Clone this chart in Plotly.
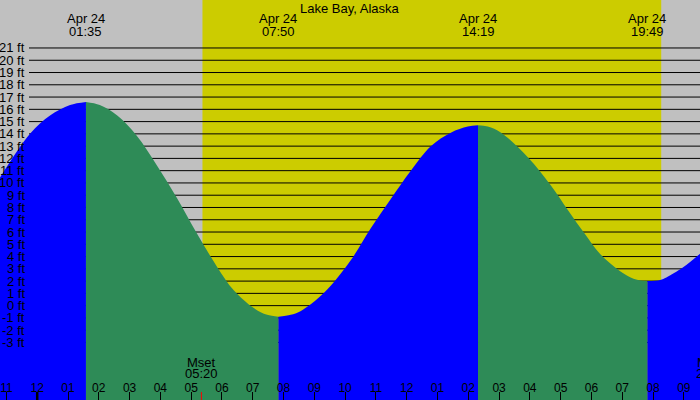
import plotly.graph_objects as go
import pandas as pd

TITLE = "Lake Bay, Alaska"
FONT = "Liberation Sans"
FS = 13
TICK_FS = 12

# Tide readings (time, height in ft)
tide_times = [
    "2024-04-23 22:47", "2024-04-23 23:46", "2024-04-24 00:25", "2024-04-24 01:04",
    "2024-04-24 01:35",
    "2024-04-24 02:02", "2024-04-24 02:36", "2024-04-24 03:14", "2024-04-24 03:53",
    "2024-04-24 04:32", "2024-04-24 05:11", "2024-04-24 05:50", "2024-04-24 06:23",
    "2024-04-24 07:02", "2024-04-24 07:28",
    "2024-04-24 07:50",
    "2024-04-24 08:14", "2024-04-24 08:33", "2024-04-24 09:19", "2024-04-24 10:11",
    "2024-04-24 10:50", "2024-04-24 11:29", "2024-04-24 12:08", "2024-04-24 12:47",
    "2024-04-24 13:26", "2024-04-24 13:59",
    "2024-04-24 14:19",
    "2024-04-24 14:38", "2024-04-24 15:04", "2024-04-24 15:56", "2024-04-24 16:41",
    "2024-04-24 17:14", "2024-04-24 17:47", "2024-04-24 18:17", "2024-04-24 18:56",
    "2024-04-24 19:22",
    "2024-04-24 19:49",
    "2024-04-24 20:14", "2024-04-24 20:26", "2024-04-24 20:58", "2024-04-24 21:32",
]
tide_ft = [
    10.4, 14.0, 15.5, 16.35,
    16.6,
    16.35, 15.5, 13.85, 11.45,
    8.8, 5.9, 3.2, 1.25,
    -0.2, -0.75,
    -0.9,
    -0.75, -0.45, 1.05, 3.7,
    6.3, 8.7, 11.0, 13.0,
    14.1, 14.6,
    14.7,
    14.6, 14.1, 12.1, 9.8,
    7.8, 5.85, 4.2, 2.8,
    2.2,
    2.0,
    2.1, 2.3, 3.1, 4.25,
]

# Tide extremes (labelled at the top)
extreme_times = ["2024-04-24 01:35", "2024-04-24 07:50", "2024-04-24 14:19", "2024-04-24 19:49"]
extreme_date_labels = ["Apr 24", "Apr 24", "Apr 24", "Apr 24"]
extreme_time_labels = ["01:35", "07:50", "14:19", "19:49"]

# Daylight and moon events
sunrise = "2024-04-24 05:22"
sunset = "2024-04-24 20:16"
moon_times = ["2024-04-24 05:20", "2024-04-24 21:56"]
moon_names = ["Mset", "Mrise"]
moon_labels = ["05:20", "21:56"]
midnight = "2024-04-24 00:00"

# Axis extents and height levels
x_start = "2024-04-23 22:47:30"
x_end = "2024-04-24 21:31:33"
Y_MIN, Y_MAX = -7.69, 24.91
levels = list(range(-3, 22))

BG = "#c0c0c0"
DAY = "#cccc00"
RISE = "#0000ff"
FALL = "#2e8b57"

t = pd.to_datetime(tide_times)
ext = pd.to_datetime(extreme_times)
t0, t1 = pd.Timestamp(x_start), pd.Timestamp(x_end)

fig = go.Figure()

bounds = [t[0]] + list(ext) + [t[-1]]
for i in range(len(bounds) - 1):
    a, b = bounds[i], bounds[i + 1]
    mask = (t >= a) & (t <= b)
    xs = t[mask]
    ys = [v for v, m in zip(tide_ft, mask) if m]
    rising = ys[-1] > ys[0]
    color = RISE if rising else FALL
    fig.add_trace(go.Scatter(x=[a, b], y=[Y_MIN, Y_MIN], mode="lines",
                             line=dict(width=0), hoverinfo="skip", showlegend=False))
    fig.add_trace(go.Scatter(x=xs, y=ys, mode="lines", fill="tonexty",
                             fillcolor=color, line=dict(width=0, color=color, shape="spline"),
                             hoverinfo="skip", showlegend=False))

shapes = []
shapes.append(dict(type="rect", xref="x", yref="paper", x0=sunrise, x1=sunset,
                   y0=0, y1=1, fillcolor=DAY, line=dict(width=0), layer="below"))
for v in levels:
    shapes.append(dict(type="line", xref="paper", yref="y", x0=29 / 700, x1=1,
                       y0=v, y1=v, line=dict(color="black", width=1), layer="below"))
shapes.append(dict(type="line", xref="x", yref="paper", x0=midnight, x1=midnight,
                   y0=0, y1=8 / 400, line=dict(color="black", width=2.5), layer="above"))
shapes.append(dict(type="line", xref="x", yref="paper", x0=moon_times[0], x1=moon_times[0],
                   y0=0, y1=8 / 400, line=dict(color="red", width=1), layer="above"))

ann = []
f = dict(family=FONT, size=FS, color="black")
ann.append(dict(text=TITLE, xref="paper", yref="paper", x=0.5, y=1 - 8 / 400,
                xanchor="center", yanchor="middle", showarrow=False, font=f))
for et, dl, tl in zip(extreme_times, extreme_date_labels, extreme_time_labels):
    ann.append(dict(text=dl, xref="x", yref="paper", x=et, y=1 - 19 / 400,
                    xanchor="center", yanchor="middle", showarrow=False, font=f))
    ann.append(dict(text=tl, xref="x", yref="paper", x=et, y=1 - 31 / 400,
                    xanchor="center", yanchor="middle", showarrow=False, font=f))
for v in levels:
    ann.append(dict(text=f"{v} ft", xref="paper", yref="y", x=27 / 700, y=v,
                    xanchor="right", yanchor="middle", showarrow=False, font=f))
span = (t1 - t0).total_seconds()
for mt, mn, ml in zip(moon_times, moon_names, moon_labels):
    px = (pd.Timestamp(mt) - t0).total_seconds() / span
    ann.append(dict(text=mn, xref="paper", yref="paper", x=px, y=1 - 362 / 400,
                    xanchor="center", yanchor="middle", showarrow=False, font=f))
    ann.append(dict(text=ml, xref="paper", yref="paper", x=px, y=1 - 373.5 / 400,
                    xanchor="center", yanchor="middle", showarrow=False, font=f))

fig.update_layout(
    width=700, height=400,
    margin=dict(l=0, r=0, t=0, b=0),
    paper_bgcolor=BG, plot_bgcolor=BG,
    showlegend=False,
    shapes=shapes, annotations=ann,
    xaxis=dict(type="date", range=[x_start, x_end], showgrid=False, zeroline=False,
               showline=False, ticks="inside", ticklen=8, tickcolor="black", tickwidth=1,
               tick0=midnight, dtick=3600000, tickformat="%I",
               ticklabelposition="inside", ticklabelstandoff=-3,
               tickfont=dict(family=FONT, size=TICK_FS, color="black"), fixedrange=True),
    yaxis=dict(range=[Y_MIN, Y_MAX], showgrid=False, zeroline=False, showline=False,
               showticklabels=False, ticks="", fixedrange=True),
)

fig.write_html("out.html")
